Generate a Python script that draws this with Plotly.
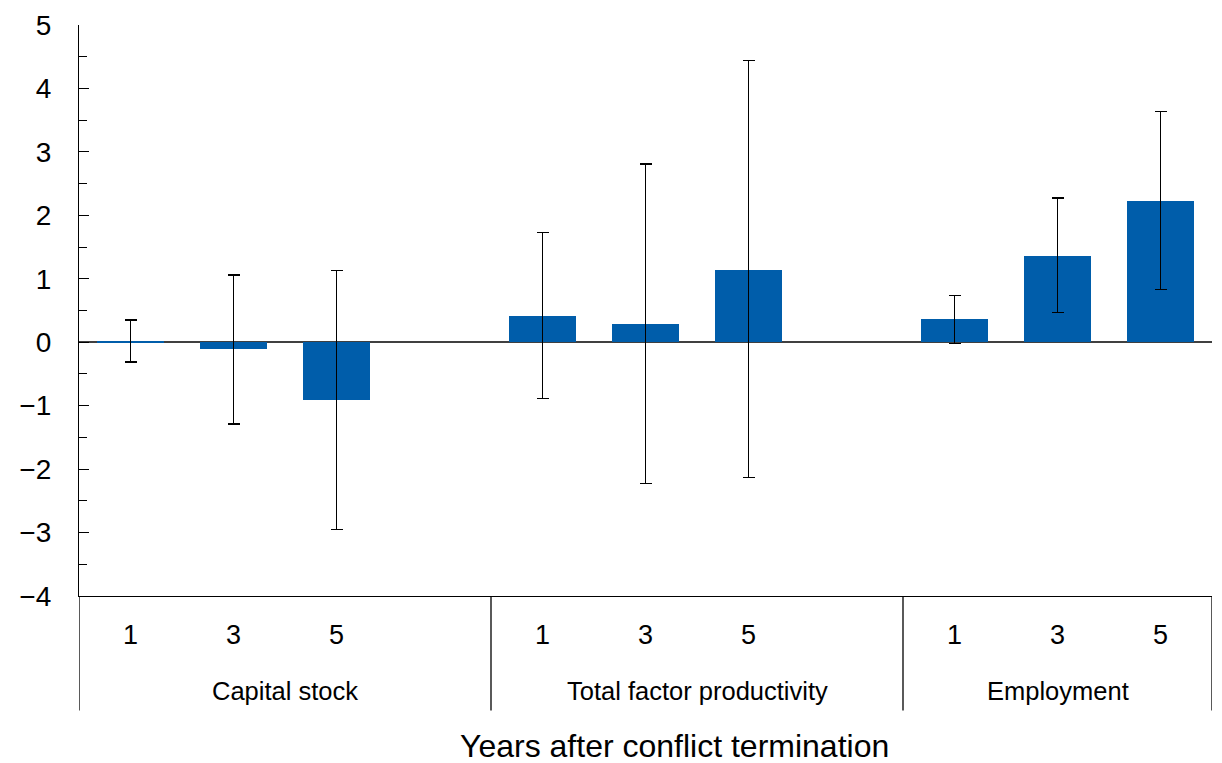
import plotly.graph_objects as go

# ---- data ----
groups = ["Capital stock", "Total factor productivity", "Employment"]
years = ["1", "3", "5"]
capital_vals = [0.01, -0.11, -0.91]
capital_hi = [0.35, 1.06, 1.13]
capital_lo = [-0.31, -1.29, -2.95]
tfp_vals = [0.41, 0.29, 1.14]
tfp_hi = [1.73, 2.81, 4.44]
tfp_lo = [-0.89, -2.23, -2.13]
emp_vals = [0.36, 1.36, 2.23]
emp_hi = [0.74, 2.27, 3.64]
emp_lo = [-0.02, 0.47, 0.83]
y_ticks = [-4, -3, -2, -1, 0, 1, 2, 3, 4, 5]

series_vals = [capital_vals, tfp_vals, emp_vals]
series_hi = [capital_hi, tfp_hi, emp_hi]
series_lo = [capital_lo, tfp_lo, emp_lo]

slot = len(years) + 1  # one blank slot between groups
xs, vals, plus, minus, tickvals, ticktext = [], [], [], [], [], []
for g, (v, hi, lo) in enumerate(zip(series_vals, series_hi, series_lo)):
    for i, yr in enumerate(years):
        x = g * slot + i
        xs.append(x)
        vals.append(v[i])
        plus.append(hi[i] - v[i])
        minus.append(v[i] - lo[i])
        tickvals.append(x)
        ticktext.append(yr)

n_slots = len(groups) * slot - 1
BLUE = "#005DAA"
FONT = "Liberation Sans, Arial, sans-serif"

fig = go.Figure()
fig.add_trace(go.Bar(
    x=xs, y=vals, width=0.66,
    marker=dict(color=BLUE, line=dict(width=0)),
    error_y=dict(type="data", symmetric=False, array=plus, arrayminus=minus,
                 color="black", thickness=1.5, width=6),
    showlegend=False,
))

W, H = 1222, 763
ml, mr, mt, mb = 79, 10, 22, 167
plot_h = H - mt - mb
box_depth = (711 - 596) / plot_h

shapes = []
# vertical separators below the axis
for xv in [-0.5] + [g * slot - 0.5 for g in range(1, len(groups))] + [n_slots - 0.5]:
    shapes.append(dict(type="line", xref="x", yref="paper", x0=xv, x1=xv,
                       y0=0, y1=-box_depth, line=dict(color="black", width=1.3)))

annotations = []
for g, name in enumerate(groups):
    lo_edge = g * slot - 0.5
    hi_edge = min(g * slot + slot - 0.5, n_slots - 0.5)
    cx = (lo_edge + hi_edge) / 2
    annotations.append(dict(text=name, x=cx, xref="x", y=-(692 - 596) / plot_h,
                            yref="paper", showarrow=False, yanchor="middle",
                            font=dict(size=25.5, color="black", family=FONT)))
annotations.append(dict(text="Years after conflict termination",
                        x=(674.5 - ml) / (W - ml - mr), xref="paper",
                        y=-(747 - 596) / plot_h, yref="paper", showarrow=False,
                        yanchor="middle",
                        font=dict(size=32, color="black", family=FONT)))

fig.update_layout(
    width=W, height=H,
    margin=dict(l=ml, r=mr, t=mt, b=mb),
    plot_bgcolor="white", paper_bgcolor="white",
    font=dict(family=FONT, color="black"),
    shapes=shapes, annotations=annotations,
    bargap=0,
)
fig.update_xaxes(
    range=[-0.5, n_slots - 0.5],
    tickmode="array", tickvals=tickvals, ticktext=ticktext,
    ticks="", showgrid=False, zeroline=False,
    showline=True, linecolor="black", linewidth=1.3,
    tickfont=dict(size=27, color="black", family=FONT),
    ticklabelstandoff=14,
)
fig.update_yaxes(
    range=[-4, 5],
    tickmode="array", tickvals=y_ticks,
    ticktext=[("\u2212" + str(abs(t))) if t < 0 else str(t) for t in y_ticks],
    ticks="inside", ticklen=10, tickwidth=1.3, tickcolor="black",
    minor=dict(ticks="inside", ticklen=8, tickwidth=1.3, tickcolor="black",
               tickmode="linear", tick0=0.5, dtick=1, showgrid=False),
    showgrid=False,
    zeroline=True, zerolinecolor="#404040", zerolinewidth=1.5,
    showline=True, linecolor="black", linewidth=1.3,
    tickfont=dict(size=28, color="black", family=FONT),
    ticklabelstandoff=21,
)

fig.write_html("out.html", config={"displayModeBar": False},
               post_script="document.body.style.margin='0';document.body.style.overflow='hidden';")
